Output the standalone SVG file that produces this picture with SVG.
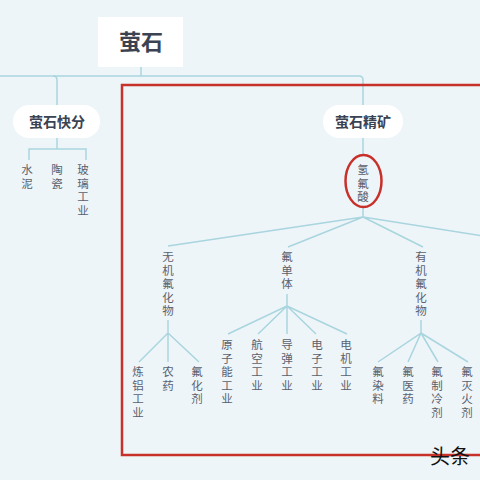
<svg xmlns="http://www.w3.org/2000/svg" width="480" height="480" viewBox="0 0 480 480">
<style>
.bg{fill:#eef5f9}
.ln{fill:none;stroke:#a9d5df;stroke-width:1.5}
.red{fill:none;stroke:#c8302a;stroke-width:2.5}
.t{font-family:"Noto Sans CJK SC","Noto Sans",sans-serif;font-size:11.5px;letter-spacing:2px;fill:#5a616d;writing-mode:vertical-rl;text-anchor:start}
.b{font-family:"Noto Sans CJK SC","Noto Sans",sans-serif;font-weight:bold;fill:#3b4252;text-anchor:middle}
.pill{fill:#ffffff}
</style>
<rect class="bg" x="0" y="0" width="480" height="480"/>
<g id="connectors">
<path class="ln" d="M141 67 V76"/>
<path class="ln" d="M0 76 H359 Q363 76 363 80 V105"/>
<path class="ln" d="M53 76 Q57 76 57 80 V105"/>
<path class="ln" d="M57 138 V149 M29 160 V149 H86 V160"/>
<path class="ln" d="M363 138 V155 M363 207 V217"/>
<path class="ln" d="M363 217 L168 246 M363 217 L288 247 M363 217 L423 247 M363 217 L490 237"/>
<path class="ln" d="M168 320 V333 L139 362 M168 333 V362 M168 333 L199 362"/>
<path class="ln" d="M287 294 V306 L228 334 M287 306 L258 334 M287 306 V334 M287 306 L316 334 M287 306 L347 334"/>
<path class="ln" d="M421 320 V333 L378 362 M421 333 L408 362 M421 333 L438 362 M421 333 L468 362"/>
</g>
<rect id="highlight-box" class="red" x="122" y="85" width="370" height="370"/>
<g id="root">
<rect class="pill" x="98" y="17" width="85" height="50"/>
<text class="b" x="141" y="50" font-size="22">萤石</text>
</g>
<g id="n-kuaifen">
<rect class="pill" x="13" y="105" width="87" height="33" rx="16"/>
<text class="b" x="57" y="127" font-size="14">萤石快分</text>
</g>
<g id="n-jingkuang">
<rect class="pill" x="323" y="105" width="80" height="33" rx="16"/>
<text class="b" x="363" y="127" font-size="14">萤石精矿</text>
</g>
<g id="n-shuini"><text class="t" x="27" y="164">水泥</text></g>
<g id="n-taoci"><text class="t" x="57" y="164">陶瓷</text></g>
<g id="n-boli"><text class="t" x="83" y="164">玻璃工业</text></g>
<g id="n-hf">
<ellipse class="red" cx="363.5" cy="181" rx="18" ry="26"/>
<text class="t" x="363" y="164">氢氟酸</text>
</g>
<g id="n-wuji"><text class="t" x="168" y="251">无机氟化物</text></g>
<g id="n-dant"><text class="t" x="287" y="251">氟单体</text></g>
<g id="n-youji"><text class="t" x="421" y="251">有机氟化物</text></g>
<g id="n-lianlv"><text class="t" x="138" y="366">炼铝工业</text></g>
<g id="n-nongyao"><text class="t" x="168" y="366">农药</text></g>
<g id="n-fhj"><text class="t" x="197" y="366">氟化剂</text></g>
<g id="n-yuanzi"><text class="t" x="227" y="339">原子能工业</text></g>
<g id="n-hangkong"><text class="t" x="257" y="339">航空工业</text></g>
<g id="n-daodan"><text class="t" x="287" y="339">导弹工业</text></g>
<g id="n-dianzi"><text class="t" x="317" y="339">电子工业</text></g>
<g id="n-dianji"><text class="t" x="346" y="339">电机工业</text></g>
<g id="n-ranliao"><text class="t" x="378" y="366">氟染料</text></g>
<g id="n-yiyao"><text class="t" x="408" y="366">氟医药</text></g>
<g id="n-zhileng"><text class="t" x="437" y="366">氟制冷剂</text></g>
<g id="n-miehuo"><text class="t" x="467" y="366">氟灭火剂</text></g>
<text x="430" y="464" font-family="Noto Sans CJK SC,sans-serif" font-size="20" fill="#111111">头条</text>
</svg>
